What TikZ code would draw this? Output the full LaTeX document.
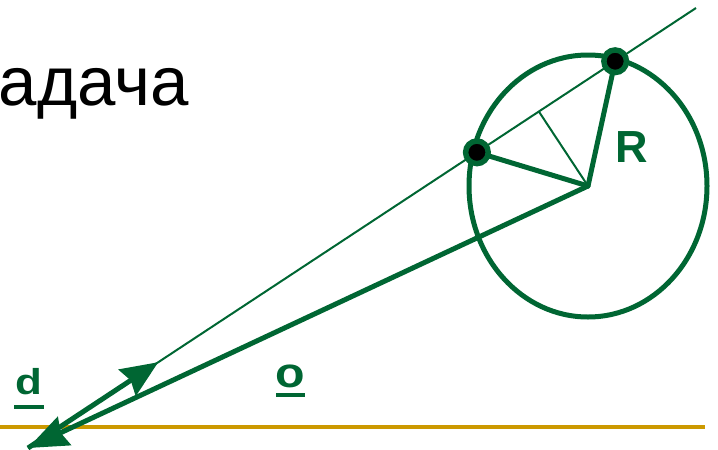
\documentclass[tikz,border=0pt]{standalone}
\usepackage{fontspec}
\usepackage{graphicx}
\setmainfont{Liberation Sans}
\usetikzlibrary{arrows.meta,calc}
\definecolor{dgreen}{HTML}{006633}
\definecolor{gold}{HTML}{CC9900}
\begin{document}
\begin{tikzpicture}[x=1pt,y=-1pt,
  thickline/.style={draw=dgreen,line width=5pt,line cap=round},
  thinline/.style={draw=dgreen,line width=2pt},
  darrow/.style={-{Stealth[length=37pt,width=31pt,inset=4pt]}},
  oarrow/.style={-{Stealth[length=40pt,width=31pt,inset=4pt]}},
  point/.style={circle,draw=dgreen,fill=black,line width=5.5pt,minimum size=22.6pt,inner sep=0pt},
  lbl/.style={text=dgreen,inner sep=0pt,outer sep=0pt,anchor=base west}]
\useasboundingbox (0,0) rectangle (718,450);
% key points
\coordinate (O) at (28,448);
\coordinate (E) at (696,8);
\coordinate (C) at (588,186);
\coordinate (D) at ($(O)!0.195!(E)$);
\coordinate (P1) at ($(O)!0.672!(E)$);
\coordinate (P2) at ($(O)!0.879!(E)$);
\coordinate (F) at ($(O)!(C)!(E)$);
\coordinate (GL) at (0,427);
\coordinate (GR) at (705,427);
% ground line
\draw[draw=gold,line width=4pt] (GL) -- (GR);
% circle
\draw[draw=dgreen,line width=5pt] (C) ellipse [x radius=119pt, y radius=131pt];
% ray and perpendicular
\draw[thinline] (O) -- (E);
\draw[thinline] (C) -- (F);
% radii
\draw[thickline] (C) -- (P1);
\draw[thickline] (C) -- (P2);
% vectors
\draw[thickline,line cap=butt,oarrow,dgreen] (C) -- (O);
\draw[thickline,line cap=butt,darrow,dgreen] (O) -- (D);
% intersection points
\node[point] (p1) at (P1) {};
\node[point] (p2) at (P2) {};
% labels
\node[anchor=base west,inner sep=0pt,font=\fontsize{69}{80}\selectfont] (title) at (-1.5,105) {адача};
\node[lbl,font=\fontsize{45}{54}\selectfont\bfseries] (R) at (615,162) {R};
\node[lbl,font=\fontsize{36}{42}\selectfont\bfseries] (dlbl) at (15.3,394) {\makebox[0pt][l]{\hspace*{-1.3pt}\rule[-15pt]{30pt}{4pt}}\scalebox{1.22}[1]{d}};
\node[lbl,font=\fontsize{42}{50}\selectfont\bfseries] (olbl) at (275,387) {\makebox[0pt][l]{\hspace*{1pt}\rule[-10pt]{29pt}{4pt}}\scalebox{1.15}[1]{o}};
\end{tikzpicture}
\end{document}
